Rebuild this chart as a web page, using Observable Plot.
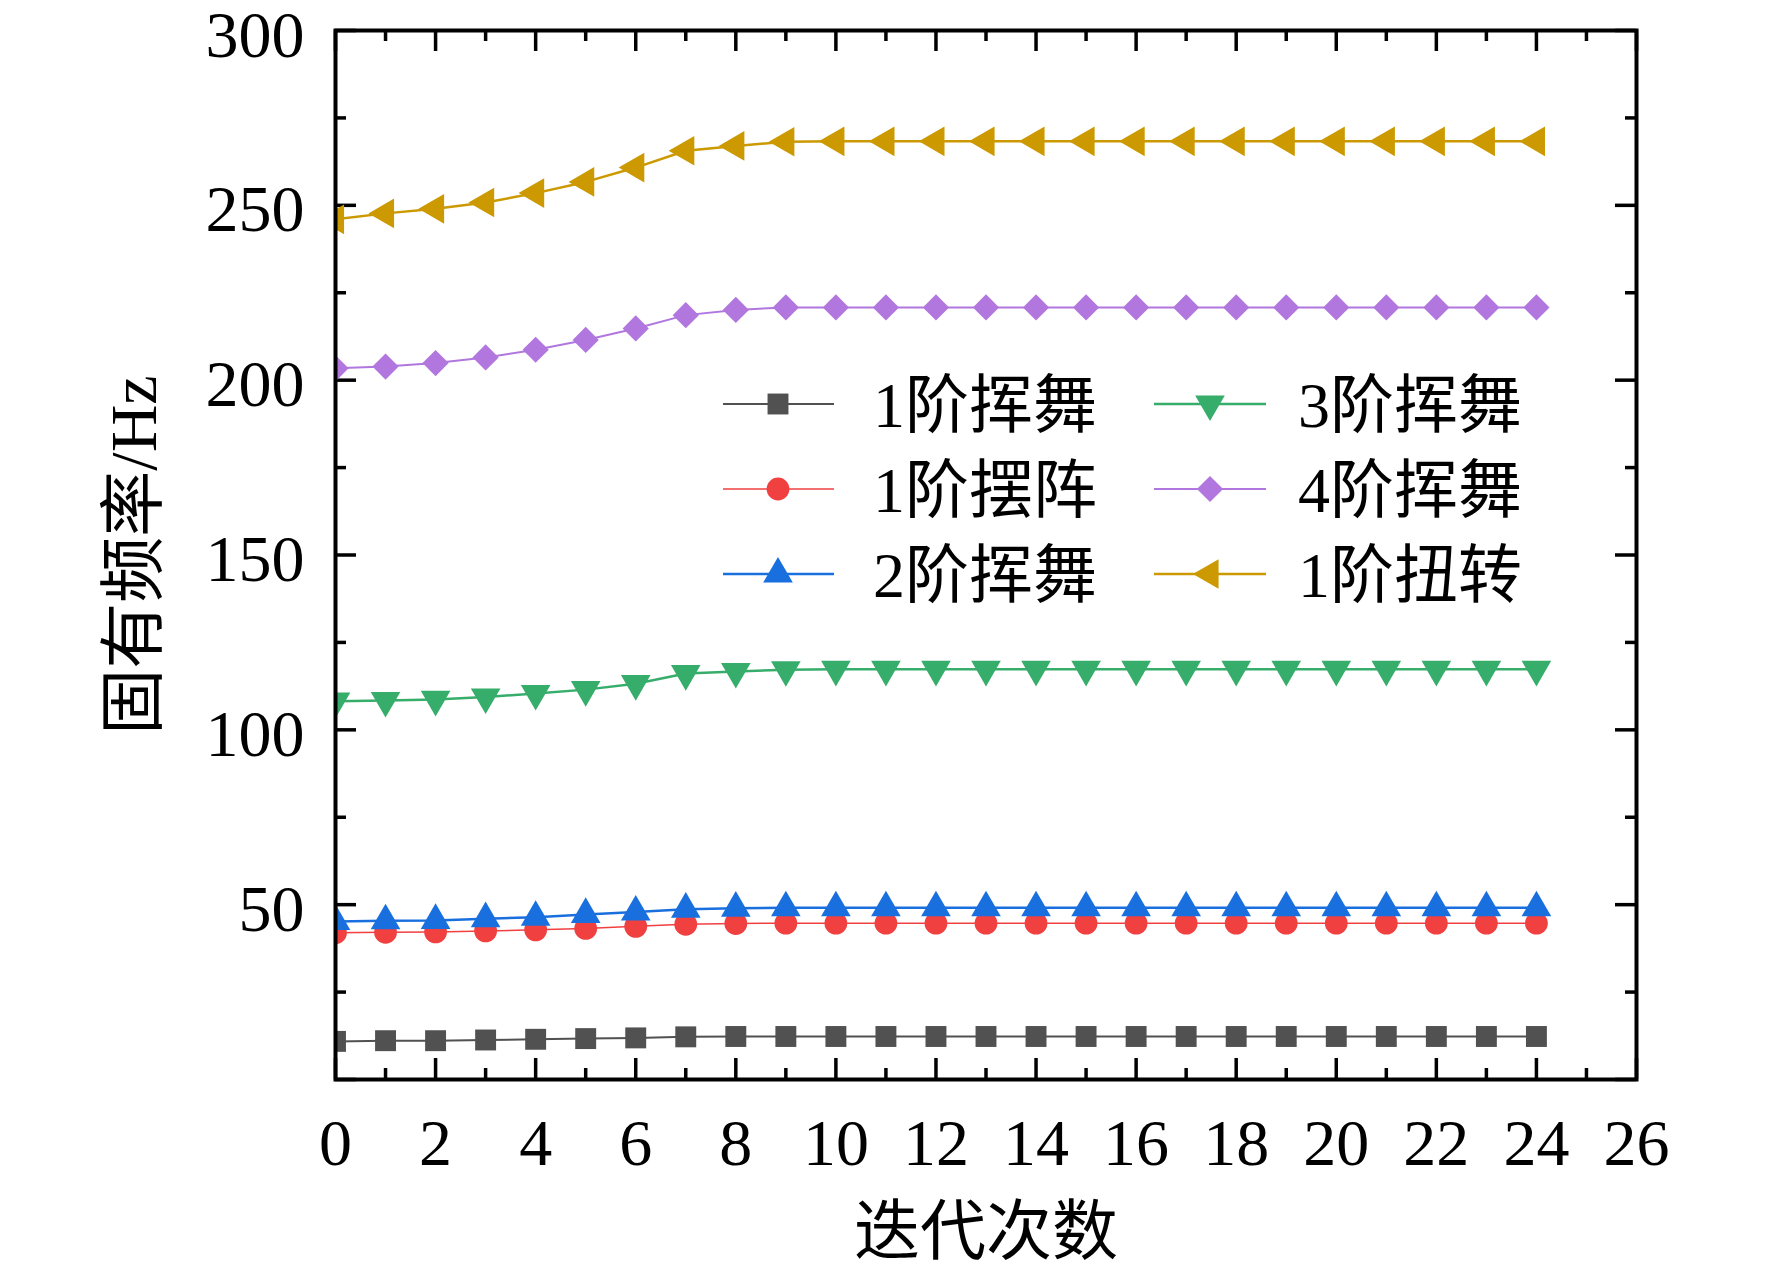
<!DOCTYPE html>
<html>
<head>
<meta charset="utf-8">
<script src="https://cdn.jsdelivr.net/npm/d3@7"></script>
<script src="https://cdn.jsdelivr.net/npm/@observablehq/plot@0.6"></script>
<style>
  html, body { margin: 0; padding: 0; background: #fff; }
  #chart svg { display: block; }
</style>
</head>
<body>
<div id="chart"></div>
<script>
// ---------------- data ----------------
const iterations = [0,1,2,3,4,5,6,7,8,9,10,11,12,13,14,15,16,17,18,19,20,21,22,23,24];
const flap1   = [10.9,11.1,11.1,11.3,11.5,11.7,11.9,12.2,12.3,12.3,12.3,12.3,12.3,12.3,12.3,12.3,12.3,12.3,12.3,12.3,12.3,12.3,12.3,12.3,12.3];
const lag1    = [42.0,42.1,42.2,42.5,42.8,43.2,43.8,44.4,44.6,44.7,44.7,44.7,44.7,44.7,44.7,44.7,44.7,44.7,44.7,44.7,44.7,44.7,44.7,44.7,44.7];
const flap2   = [45.2,45.4,45.5,46.0,46.4,47.2,47.9,48.7,49.0,49.1,49.1,49.1,49.1,49.1,49.1,49.1,49.1,49.1,49.1,49.1,49.1,49.1,49.1,49.1,49.1];
const flap3   = [108.2,108.4,108.7,109.4,110.4,111.5,113.2,116.1,116.7,117.2,117.3,117.3,117.3,117.3,117.3,117.3,117.3,117.3,117.3,117.3,117.3,117.3,117.3,117.3,117.3];
const flap4   = [203.4,203.9,204.9,206.5,208.7,211.5,214.8,218.6,220.1,220.8,220.8,220.8,220.8,220.8,220.8,220.8,220.8,220.8,220.8,220.8,220.8,220.8,220.8,220.8,220.8];
const torsion1= [246.0,247.7,249.0,250.8,253.5,256.7,260.8,265.6,267.0,268.2,268.3,268.3,268.3,268.3,268.3,268.3,268.3,268.3,268.3,268.3,268.3,268.3,268.3,268.3,268.3];

const seriesNames  = ["1阶挥舞", "1阶摆阵", "2阶挥舞", "3阶挥舞", "4阶挥舞", "1阶扭转"];
const seriesValues = [flap1, lag1, flap2, flap3, flap4, torsion1];

const xMajorTicks = [0,2,4,6,8,10,12,14,16,18,20,22,24,26];
const xMinorTicks = [1,3,5,7,9,11,13,15,17,19,21,23,25];
const yMajorTicks = [0,50,100,150,200,250,300];
const yTickLabels = [50,100,150,200,250,300];
const yMinorTicks = [25,75,125,175,225,275];

const xTitle = "迭代次数";
const yTitle = "固有频率/Hz";

// ---------------- styles ----------------
const seriesColors  = ["#515151", "#F14040", "#1A6FDF", "#37AD6B", "#B177DE", "#CC9900"];
const seriesWidths  = [2, 1.5, 2.5, 2.5, 2, 2.5];
const seriesSymbols = [d3.symbolSquare, d3.symbolCircle, d3.symbolTriangle, d3.symbolTriangle, d3.symbolDiamond2, d3.symbolTriangle];
const seriesRotate  = [0, 0, 0, 180, 0, -90];
const seriesR       = [11.8, 11.4, 11.0, 11.0, 11.8, 11.0];

const W = 1772, H = 1273;
const mL = 335, mR = 136, mT = 30, mB = 194;
const plotW = W - mL - mR, plotH = H - mT - mB;
const FONT = "'Liberation Serif', 'Times New Roman', 'Noto Sans CJK SC', serif";
const majorLen = 21, minorLen = 11, tickW = 3.5;

const rows = seriesValues.flatMap((vals, s) =>
  vals.map((v, j) => ({x: iterations[j], y: v, s})));

const seriesMarks = seriesNames.flatMap((name, s) => {
  const data = rows.filter(d => d.s === s);
  return [
    Plot.line(data, {x: "x", y: "y", stroke: seriesColors[s], strokeWidth: seriesWidths[s], clip: true}),
    Plot.dot(data, {x: "x", y: "y", symbol: seriesSymbols[s], r: seriesR[s], fill: seriesColors[s],
                    stroke: "none", rotate: seriesRotate[s], clip: true})
  ];
});

const chart = Plot.plot({
  width: W, height: H,
  marginLeft: mL, marginRight: mR, marginTop: mT, marginBottom: mB,
  style: {fontFamily: FONT, background: "#fff", color: "#000", overflow: "visible"},
  x: {domain: [0, 26], label: null},
  y: {domain: [0, 300], label: null},
  marks: [
    // inward ticks on all four sides
    Plot.tickX(xMajorTicks, {x: d => d, insetTop: plotH - majorLen, strokeWidth: tickW, stroke: "#000"}),
    Plot.tickX(xMinorTicks, {x: d => d, insetTop: plotH - minorLen, strokeWidth: tickW, stroke: "#000"}),
    Plot.tickX(xMajorTicks, {x: d => d, insetBottom: plotH - majorLen, strokeWidth: tickW, stroke: "#000"}),
    Plot.tickX(xMinorTicks, {x: d => d, insetBottom: plotH - minorLen, strokeWidth: tickW, stroke: "#000"}),
    Plot.tickY(yMajorTicks, {y: d => d, insetRight: plotW - majorLen, strokeWidth: tickW, stroke: "#000"}),
    Plot.tickY(yMinorTicks, {y: d => d, insetRight: plotW - minorLen, strokeWidth: tickW, stroke: "#000"}),
    Plot.tickY(yMajorTicks, {y: d => d, insetLeft: plotW - majorLen, strokeWidth: tickW, stroke: "#000"}),
    Plot.tickY(yMinorTicks, {y: d => d, insetLeft: plotW - minorLen, strokeWidth: tickW, stroke: "#000"}),
    // tick labels
    Plot.axisX({ticks: xMajorTicks, tickSize: 0, tickPadding: 39, fontSize: 66, tickFormat: d => String(d), label: null}),
    Plot.axisY({ticks: yTickLabels, tickSize: 0, tickPadding: 31, fontSize: 66, dy: 5, tickFormat: d => String(d), label: null}),
    ...seriesMarks,
    Plot.frame({stroke: "#000", strokeWidth: 4}),
    // axis titles
    Plot.text([yTitle], {frameAnchor: "left", dx: -201, rotate: -90, textAnchor: "middle", lineAnchor: "middle", fontSize: 66, fill: "#000"}),
    Plot.text([xTitle], {frameAnchor: "bottom", dy: 153, textAnchor: "middle", lineAnchor: "middle", fontSize: 66, fill: "#000"})
  ]
});

document.getElementById("chart").appendChild(chart);

// ---------------- legend (inside the plot) ----------------
const svg = d3.select(chart);
const legend = svg.append("g").attr("font-family", FONT).attr("font-size", 64).attr("text-anchor", "start");
const colX = [{x1: 723, x2: 834, mx: 778, tx: 873}, {x1: 1154, x2: 1266, mx: 1210, tx: 1298}];
const rowY = [404, 489, 574];
seriesNames.forEach((name, s) => {
  const c = colX[Math.floor(s / 3)], y = rowY[s % 3];
  const g = legend.append("g");
  g.append("line").attr("x1", c.x1).attr("x2", c.x2).attr("y1", y).attr("y2", y)
    .attr("stroke", seriesColors[s]).attr("stroke-width", seriesWidths[s]);
  g.append("path")
    .attr("d", d3.symbol().type(seriesSymbols[s]).size(Math.PI * seriesR[s] * seriesR[s])())
    .attr("transform", `translate(${c.mx},${y}) rotate(${seriesRotate[s]})`)
    .attr("fill", seriesColors[s]);
  g.append("text").attr("x", c.tx).attr("y", y + 23).attr("fill", "#000").text(name);
});
</script>
</body>
</html>
